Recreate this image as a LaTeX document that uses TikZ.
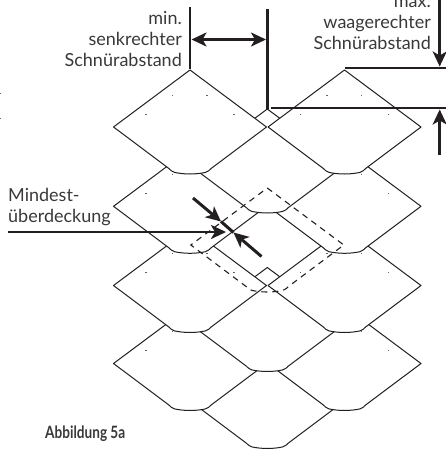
\documentclass[tikz,border=0pt]{standalone}
\usepackage{fontspec}
\setmainfont{Lato}
\usetikzlibrary{arrows.meta}
\definecolor{ink}{HTML}{231F20}
\definecolor{txt}{HTML}{3A3838}
\tikzset{
  tile/.style={draw=ink,line width=1pt,fill=white,line join=round},
  tiledash/.style={draw=ink,line width=1.1pt,dash pattern=on 6pt off 5pt},
  nail/.style={fill=ink!70,draw=none},
  bar/.style={draw=ink,line width=2.6pt},
  dim/.style={draw=ink,line width=2.6pt,-{Stealth[length=15pt,width=14pt,inset=4pt]}},
  dimboth/.style={draw=ink,line width=2.4pt,{Stealth[length=15pt,width=14pt,inset=4pt]}-{Stealth[length=15pt,width=14pt,inset=4pt]}},
  lbl/.style={inner sep=0pt,text=txt,font=\fontsize{18}{21}\selectfont,align=right},
}
\newcommand{\tilepath}{(0,0) -- (76.5,57) -- (21,98.6)
  .. controls (19.5,99.8) and (18.5,101.6) .. (15.5,102.4)
  .. controls (11,103.4) and (5,104) .. (0,104)
  .. controls (-5,104) and (-11,103.4) .. (-15.5,102.4)
  .. controls (-18.5,101.6) and (-19.5,99.8) .. (-21,98.6)
  -- (-76.5,57) -- cycle}
\newcommand{\onetile}[2]{%
  \path[tile,shift={(#1,#2)}] \tilepath;
  \foreach \dx/\dy in {-17.5/25,17/25,-44/44,44/44}
    \fill[nail] ({#1+\dx-0.6},{#2+\dy-0.4}) rectangle ++(1.2,0.8);
}
\begin{document}
\begin{tikzpicture}[x=1pt,y=-1pt]
\useasboundingbox (0,0) rectangle (446,450);
\clip (0,0) rectangle (446,450);
% shingles, back to front
\onetile{267.3}{344.5}
\onetile{190}{306.5}\onetile{344.5}{306.5}
\onetile{267.3}{267.5}
\onetile{190}{228.5}\onetile{344.5}{228.5}
\onetile{190}{149.3}\onetile{344.5}{149.3}
\onetile{267.3}{109}
\onetile{190}{70}\onetile{344.5}{70}
% outline of the shingle position left open
\path[tiledash,shift={(267.3,188)}] \tilepath;
% dimension coordinates
\coordinate (minTop) at (190,7);
\coordinate (minBot) at (190,69);
\coordinate (midTop) at (267.5,9);
\coordinate (midBot) at (267.5,108.5);
\coordinate (minA) at (191.5,39.5);
\coordinate (minB) at (266,39.5);
\coordinate (hA1) at (344.5,68);
\coordinate (hA2) at (446,68);
\coordinate (hB1) at (271,108);
\coordinate (hB2) at (446,108);
\coordinate (dnS) at (439.7,0);
\coordinate (dnE) at (439.7,66.5);
\coordinate (upS) at (439.7,155);
\coordinate (upE) at (439.7,109.5);
\coordinate (ovS) at (8,232);
\coordinate (ovE) at (226,232);
\coordinate (a1S) at (193,198);
\coordinate (a1E) at (221,221.5);
\coordinate (a2S) at (261.5,256.5);
\coordinate (a2E) at (233.5,232.5);
\fill[nail] (0,92.5) rectangle ++(1,1);
\fill[nail] (0,118) rectangle ++(1,1);
\draw[bar] (minTop) -- (minBot);
\draw[bar,line width=2.2pt] (midTop) -- (midBot);
\draw[dimboth] (minA) -- (minB);
\draw[bar] (hA1) -- (hA2);
\draw[bar] (hB1) -- (hB2);
\draw[dim] (dnS) -- (dnE);
\draw[dim] (upS) -- (upE);
\draw[dim] (ovS) -- (ovE);
\draw[dim,line width=3pt] (a1S) -- (a1E);
\draw[dim,line width=3pt] (a2S) -- (a2E);
\draw[bar,line width=3pt] (a1E) -- (a2E);
% labels
\node[lbl,anchor=south east] (lmin) at (182,67) {min.\\senkrechter\\Schnürabstand};
\node[lbl,anchor=south east] (lmax) at (431,50) {max.\\waagerechter\\Schnürabstand};
\node[lbl,anchor=south west,align=left] (lover) at (8,226) {Mindest-\\überdeckung};
\node[inner sep=0pt,anchor=base west,text=txt] (lfig) at (45,438)
  {\scalebox{0.8}[1]{\fontsize{17}{20}\selectfont\bfseries Abbildung 5a}};
\end{tikzpicture}
\end{document}
